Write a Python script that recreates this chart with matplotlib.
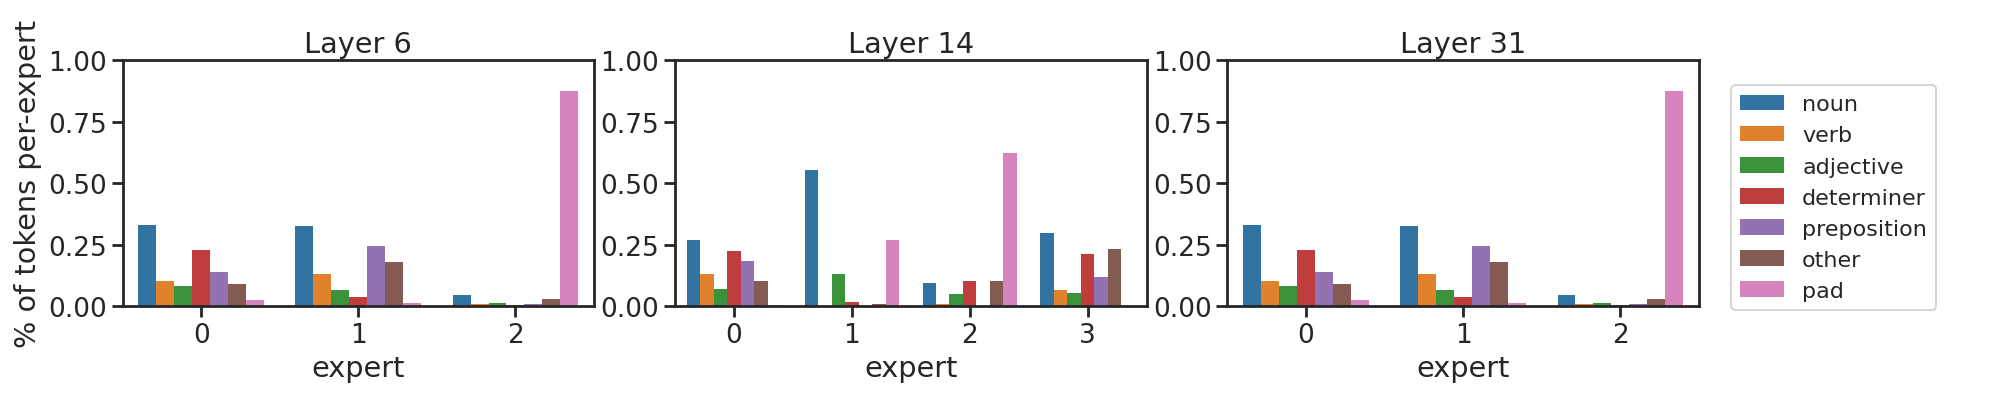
import matplotlib
matplotlib.use("Agg")
import matplotlib.pyplot as plt
import pandas as pd
import seaborn as sns

categories = ["noun", "verb", "adjective", "determiner", "preposition", "other", "pad"]

layer6 = [
    [0.33, 0.105, 0.085, 0.23, 0.14, 0.09, 0.025],
    [0.325, 0.13, 0.065, 0.04, 0.245, 0.18, 0.015],
    [0.045, 0.01, 0.015, 0.005, 0.01, 0.03, 0.875],
]
layer14 = [
    [0.27, 0.13, 0.07, 0.225, 0.185, 0.105, 0.005],
    [0.555, 0.0, 0.13, 0.02, 0.0, 0.01, 0.27],
    [0.095, 0.01, 0.05, 0.105, 0.0, 0.105, 0.625],
    [0.30, 0.065, 0.055, 0.215, 0.12, 0.235, 0.0],
]
layer31 = [
    [0.33, 0.105, 0.085, 0.23, 0.14, 0.09, 0.025],
    [0.325, 0.13, 0.065, 0.04, 0.245, 0.18, 0.015],
    [0.045, 0.01, 0.015, 0.005, 0.01, 0.03, 0.875],
]
layers = {"Layer 6": layer6, "Layer 14": layer14, "Layer 31": layer31}

sns.set_theme(style="ticks", context="talk", font_scale=1.15,
              rc={"axes.linewidth": 2.0, "xtick.major.width": 2.0, "ytick.major.width": 2.0,
                  "xtick.major.size": 8, "ytick.major.size": 8})
plt.rcParams["font.family"] = ["DejaVu Sans"]

fig, axes = plt.subplots(1, 3, figsize=(20, 4.14))
for ax, (title, vals) in zip(axes, layers.items()):
    rows = [(e, c, v) for e, r in enumerate(vals) for c, v in zip(categories, r)]
    df = pd.DataFrame(rows, columns=["expert", "pos", "frac"])
    sns.barplot(data=df, x="expert", y="frac", hue="pos", hue_order=categories,
                palette="tab10", ax=ax, saturation=0.75, linewidth=0)
    ax.set_ylim(0, 1.0)
    ax.set_title(title)
    ax.set_ylabel("")
    ax.legend_.remove()
    for s in ax.spines.values():
        s.set_visible(True)
axes[0].set_ylabel("% of tokens per-expert")
h, l = axes[0].get_legend_handles_labels()
fig.tight_layout(rect=(0, 0, 0.865, 1), w_pad=0.8)
fig.legend(h, l, loc="center left", bbox_to_anchor=(0.86, 0.52), fontsize=16)
fig.savefig("out.png", dpi=100)
